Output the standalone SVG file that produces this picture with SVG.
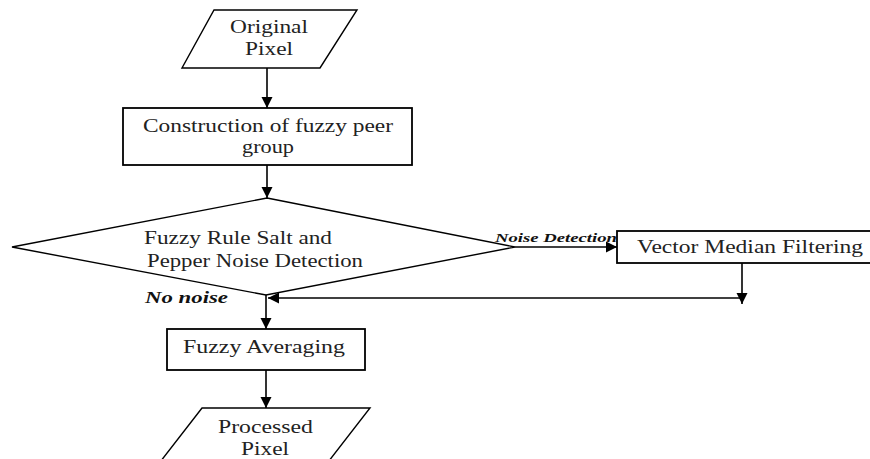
<svg xmlns="http://www.w3.org/2000/svg" width="870" height="459" viewBox="0 0 870 459">
<defs>
<marker id="arr" markerUnits="userSpaceOnUse" markerWidth="12" markerHeight="12" refX="11" refY="6" orient="auto">
<path d="M0,0.5 L11,6 L0,11.5 Z" fill="#000"/>
</marker>
<style>
.shape{fill:#fff;stroke:#000;stroke-width:1.4}
.box{fill:#fff;stroke:#000;stroke-width:1.8}
.t{font-family:'Liberation Serif','Times New Roman',serif;font-size:18px;fill:#222}
.lbl{font-family:'Liberation Serif','Times New Roman',serif;font-weight:bold;font-style:italic;fill:#111}
.c{fill:none;stroke:#000;stroke-width:1.6}
</style>
</defs>
<rect width="870" height="459" fill="#fff"/>
<g id="connectors">
<line class="c" x1="267" y1="68" x2="267" y2="108" marker-end="url(#arr)"/>
<line class="c" x1="267" y1="165" x2="267" y2="198" marker-end="url(#arr)"/>
<line class="c" x1="515" y1="247" x2="617" y2="247" marker-end="url(#arr)"/>
<line class="c" x1="742" y1="263" x2="742" y2="304" marker-end="url(#arr)"/>
<line class="c" x1="742" y1="298" x2="268" y2="298" marker-end="url(#arr)"/>
<line class="c" x1="266" y1="290" x2="266" y2="329" marker-end="url(#arr)"/>
<line class="c" x1="266" y1="370" x2="266" y2="408" marker-end="url(#arr)"/>
<text class="lbl" x="495" y="242" font-size="13" textLength="122" lengthAdjust="spacingAndGlyphs">Noise Detection</text>
<text class="lbl" x="145" y="303" font-size="17" textLength="83" lengthAdjust="spacingAndGlyphs">No noise</text>
</g>
<g id="original-pixel">
<polygon class="shape" points="214,10 357,10 320,68 182,68"/>
<text class="t" x="230" y="33" textLength="78" lengthAdjust="spacingAndGlyphs">Original</text>
<text class="t" x="245" y="55" textLength="48" lengthAdjust="spacingAndGlyphs">Pixel</text>
</g>
<g id="construction">
<rect class="box" x="123" y="108" width="289" height="57"/>
<text class="t" x="143" y="132" textLength="250" lengthAdjust="spacingAndGlyphs">Construction of fuzzy peer</text>
<text class="t" x="242" y="153" textLength="52" lengthAdjust="spacingAndGlyphs">group</text>
</g>
<g id="decision">
<polygon class="shape" points="267,198 515,247 266,295 12,247"/>
<text class="t" x="144" y="244" textLength="188" lengthAdjust="spacingAndGlyphs">Fuzzy Rule Salt and</text>
<text class="t" x="147" y="267" textLength="216" lengthAdjust="spacingAndGlyphs">Pepper Noise Detection</text>
</g>
<g id="vector-median">
<rect class="box" x="617" y="231" width="260" height="32"/>
<text class="t" x="637" y="253" textLength="226" lengthAdjust="spacingAndGlyphs">Vector Median Filtering</text>
</g>
<g id="fuzzy-averaging">
<rect class="box" x="167" y="329" width="198" height="41"/>
<text class="t" x="183" y="353" textLength="162" lengthAdjust="spacingAndGlyphs">Fuzzy Averaging</text>
</g>
<g id="processed-pixel">
<polygon class="shape" points="202,408 370,408 325,466 157,466"/>
<text class="t" x="218" y="433" textLength="95" lengthAdjust="spacingAndGlyphs">Processed</text>
<text class="t" x="241" y="455" textLength="48" lengthAdjust="spacingAndGlyphs">Pixel</text>
</g>
</svg>
